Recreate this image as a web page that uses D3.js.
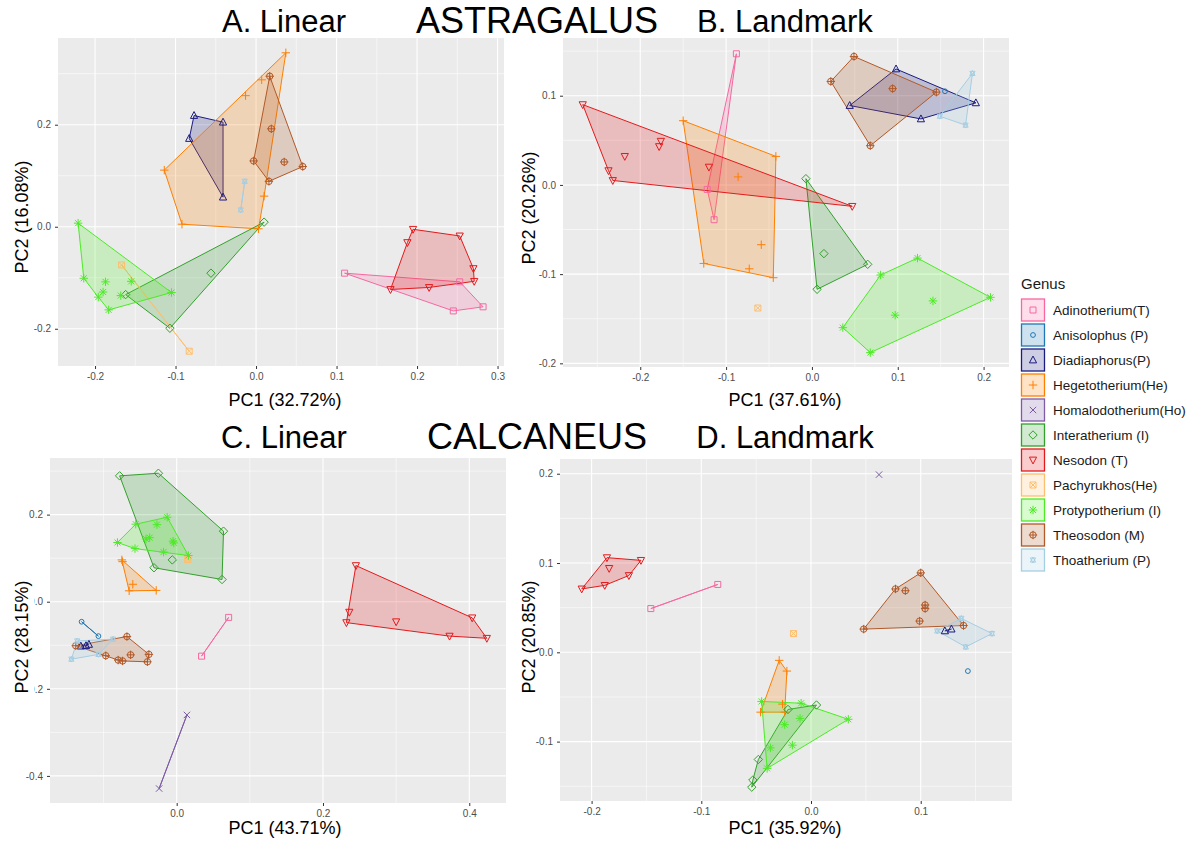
<!DOCTYPE html>
<html lang="en">
<head>
<meta charset="UTF-8">
<title>Astragalus / Calcaneus PCA</title>
<script src="https://cdn.jsdelivr.net/npm/d3@7"></script>
<style>
    body { margin: 0; background: #fff; }
    svg { display: block; font-family: "Liberation Sans", Arial, sans-serif; }
    .tick text { fill: #4d4d4d; font-size: 10px; }
    .tick line { stroke: #333; }
</style>
</head>
<body>
<svg id="chart" width="1202" height="845"></svg>
<script>
// genus legend
const genera = ["Adinotherium", "Anisolophus", "Diadiaphorus", "Hegetotherium", "Homalodotherium",
    "Interatherium", "Nesodon", "Pachyrukhos", "Protypotherium", "Theosodon", "Thoatherium"];
const genusLabels = ["Adinotherium(T)", "Anisolophus (P)", "Diadiaphorus(P)", "Hegetotherium(He)",
    "Homalodotherium(Ho)", "Interatherium (I)", "Nesodon (T)", "Pachyrukhos(He)",
    "Protypotherium (I)", "Theosodon (M)", "Thoatherium (P)"];
const genusColors = ["#F768A1", "#1F78B4", "#1B1B80", "#FF7F00", "#7D5BA6",
    "#33A02C", "#E31A1C", "#FDBF6F", "#4CEB26", "#B15928", "#A6CEE3"];
const genusShapes = ["square", "circle", "triangle", "plus", "cross",
    "diamond", "triangleDown", "squareCross", "asterisk", "circlePlus", "star"];

// [genus, PC1, PC2]
const astragalusLinear = [
    ["Adinotherium", 0.110, -0.091], ["Adinotherium", 0.253, -0.108], ["Adinotherium", 0.282, -0.157], ["Adinotherium", 0.245, -0.165],
    ["Diadiaphorus", -0.077, 0.218], ["Diadiaphorus", -0.083, 0.173], ["Diadiaphorus", -0.041, 0.205], ["Diadiaphorus", -0.041, 0.058],
    ["Hegetotherium", 0.037, 0.341], ["Hegetotherium", 0.007, 0.288], ["Hegetotherium", -0.013, 0.257], ["Hegetotherium", -0.114, 0.111],
    ["Hegetotherium", -0.092, 0.005], ["Hegetotherium", 0.003, -0.004], ["Hegetotherium", 0.010, 0.060],
    ["Interatherium", 0.010, 0.009], ["Interatherium", -0.056, -0.091], ["Interatherium", -0.162, -0.133], ["Interatherium", -0.107, -0.199],
    ["Nesodon", 0.195, -0.005], ["Nesodon", 0.188, -0.031], ["Nesodon", 0.253, -0.018], ["Nesodon", 0.270, -0.082],
    ["Nesodon", 0.271, -0.107], ["Nesodon", 0.215, -0.119], ["Nesodon", 0.167, -0.123],
    ["Pachyrukhos", -0.167, -0.075], ["Pachyrukhos", -0.083, -0.244],
    ["Protypotherium", -0.221, 0.007], ["Protypotherium", -0.214, -0.101], ["Protypotherium", -0.187, -0.108],
    ["Protypotherium", -0.155, -0.107], ["Protypotherium", -0.190, -0.128], ["Protypotherium", -0.196, -0.138],
    ["Protypotherium", -0.183, -0.163], ["Protypotherium", -0.168, -0.135], ["Protypotherium", -0.105, -0.129],
    ["Theosodon", 0.017, 0.295], ["Theosodon", 0.019, 0.192], ["Theosodon", -0.003, 0.129], ["Theosodon", 0.035, 0.127],
    ["Theosodon", 0.058, 0.118], ["Theosodon", 0.016, 0.089],
    ["Thoatherium", -0.014, 0.089], ["Thoatherium", -0.019, 0.033]
];

const astragalusLandmark = [
    ["Adinotherium", -0.088, 0.147], ["Adinotherium", -0.122, -0.005], ["Adinotherium", -0.114, -0.039],
    ["Anisolophus", 0.155, 0.105],
    ["Diadiaphorus", 0.098, 0.130], ["Diadiaphorus", 0.044, 0.089], ["Diadiaphorus", 0.127, 0.074], ["Diadiaphorus", 0.191, 0.092],
    ["Hegetotherium", -0.150, 0.072], ["Hegetotherium", -0.042, 0.032], ["Hegetotherium", -0.086, 0.009], ["Hegetotherium", -0.059, -0.067],
    ["Hegetotherium", -0.126, -0.088], ["Hegetotherium", -0.073, -0.094], ["Hegetotherium", -0.045, -0.104],
    ["Interatherium", -0.007, 0.007], ["Interatherium", 0.014, -0.077], ["Interatherium", 0.006, -0.117], ["Interatherium", 0.065, -0.089],
    ["Nesodon", -0.267, 0.090], ["Nesodon", -0.237, 0.016], ["Nesodon", -0.232, 0.005], ["Nesodon", -0.218, 0.032],
    ["Nesodon", -0.176, 0.049], ["Nesodon", -0.178, 0.043], ["Nesodon", -0.120, 0.020], ["Nesodon", 0.047, -0.024],
    ["Pachyrukhos", -0.063, -0.138],
    ["Protypotherium", 0.123, -0.082], ["Protypotherium", 0.080, -0.101], ["Protypotherium", 0.208, -0.126], ["Protypotherium", 0.141, -0.130],
    ["Protypotherium", 0.097, -0.146], ["Protypotherium", 0.036, -0.160], ["Protypotherium", 0.068, -0.188],
    ["Theosodon", 0.049, 0.144], ["Theosodon", 0.022, 0.116], ["Theosodon", 0.094, 0.108], ["Theosodon", 0.145, 0.104], ["Theosodon", 0.068, 0.044],
    ["Thoatherium", 0.187, 0.125], ["Thoatherium", 0.179, 0.067], ["Thoatherium", 0.149, 0.077]
];

const calcaneusLinear = [
    ["Adinotherium", 0.071, -0.036], ["Adinotherium", 0.034, -0.125],
    ["Anisolophus", -0.130, -0.046], ["Anisolophus", -0.107, -0.079],
    ["Diadiaphorus", -0.131, -0.102], ["Diadiaphorus", -0.124, -0.101], ["Diadiaphorus", -0.120, -0.098],
    ["Hegetotherium", -0.075, 0.096], ["Hegetotherium", -0.074, 0.092], ["Hegetotherium", -0.060, 0.040],
    ["Hegetotherium", -0.065, 0.025], ["Hegetotherium", -0.028, 0.026],
    ["Homalodotherium", 0.014, -0.260], ["Homalodotherium", -0.024, -0.429],
    ["Interatherium", -0.078, 0.289], ["Interatherium", -0.025, 0.295], ["Interatherium", 0.064, 0.162],
    ["Interatherium", 0.062, 0.051], ["Interatherium", -0.031, 0.078], ["Interatherium", -0.006, 0.096],
    ["Nesodon", 0.245, 0.083], ["Nesodon", 0.236, -0.024], ["Nesodon", 0.232, -0.048], ["Nesodon", 0.300, -0.046],
    ["Nesodon", 0.404, -0.037], ["Nesodon", 0.373, -0.079], ["Nesodon", 0.424, -0.084],
    ["Pachyrukhos", 0.015, 0.097],
    ["Protypotherium", -0.013, 0.194], ["Protypotherium", -0.056, 0.178], ["Protypotherium", -0.027, 0.177],
    ["Protypotherium", -0.081, 0.136], ["Protypotherium", -0.057, 0.122], ["Protypotherium", -0.042, 0.144],
    ["Protypotherium", -0.037, 0.147], ["Protypotherium", -0.005, 0.139], ["Protypotherium", -0.004, 0.135],
    ["Protypotherium", -0.018, 0.114], ["Protypotherium", 0.016, 0.106],
    ["Theosodon", -0.138, -0.101], ["Theosodon", -0.068, -0.080], ["Theosodon", -0.097, -0.124], ["Theosodon", -0.080, -0.134],
    ["Theosodon", -0.074, -0.136], ["Theosodon", -0.063, -0.122], ["Theosodon", -0.038, -0.121], ["Theosodon", -0.040, -0.138],
    ["Thoatherium", -0.136, -0.090], ["Thoatherium", -0.087, -0.086], ["Thoatherium", -0.144, -0.132], ["Thoatherium", -0.107, -0.121]
];

const calcaneusLandmark = [
    ["Adinotherium", -0.146, 0.049], ["Adinotherium", -0.085, 0.076],
    ["Anisolophus", 0.143, -0.021],
    ["Diadiaphorus", 0.122, 0.024], ["Diadiaphorus", 0.128, 0.026],
    ["Hegetotherium", -0.029, -0.009], ["Hegetotherium", -0.022, -0.021], ["Hegetotherium", -0.026, -0.058],
    ["Hegetotherium", -0.046, -0.067], ["Hegetotherium", -0.024, -0.067],
    ["Homalodotherium", 0.062, 0.199],
    ["Interatherium", 0.005, -0.059], ["Interatherium", -0.021, -0.064], ["Interatherium", -0.048, -0.120],
    ["Interatherium", -0.054, -0.151], ["Interatherium", -0.053, -0.143],
    ["Nesodon", -0.209, 0.071], ["Nesodon", -0.186, 0.106], ["Nesodon", -0.184, 0.094], ["Nesodon", -0.188, 0.075],
    ["Nesodon", -0.166, 0.086], ["Nesodon", -0.155, 0.103],
    ["Pachyrukhos", -0.016, 0.021],
    ["Protypotherium", -0.045, -0.055], ["Protypotherium", -0.009, -0.057], ["Protypotherium", 0.034, -0.075],
    ["Protypotherium", -0.010, -0.074], ["Protypotherium", -0.024, -0.081], ["Protypotherium", -0.017, -0.104],
    ["Protypotherium", -0.037, -0.107], ["Protypotherium", -0.040, -0.130],
    ["Theosodon", 0.100, 0.089], ["Theosodon", 0.077, 0.071], ["Theosodon", 0.086, 0.069], ["Theosodon", 0.104, 0.053],
    ["Theosodon", 0.104, 0.049], ["Theosodon", 0.099, 0.035], ["Theosodon", 0.048, 0.026], ["Theosodon", 0.139, 0.030],
    ["Thoatherium", 0.115, 0.024], ["Thoatherium", 0.137, 0.038], ["Thoatherium", 0.165, 0.021], ["Thoatherium", 0.141, 0.006]
];

// axis ticks
const xTicksA = [-0.2, -0.1, 0.0, 0.1, 0.2, 0.3];
const yTicksA = [-0.2, 0.0, 0.2];
const xTicksB = [-0.2, -0.1, 0.0, 0.1, 0.2];
const yTicksB = [-0.2, -0.1, 0.0, 0.1];
const xTicksC = [0.0, 0.2, 0.4];
const yTicksC = [-0.4, -0.2, 0.0, 0.2];
const xTicksD = [-0.2, -0.1, 0.0, 0.1];
const yTicksD = [-0.1, 0.0, 0.1, 0.2];

const panels = [
    { data: astragalusLinear, box: [58, 38, 504, 366], xDom: [-0.246, 0.308], yDom: [-0.273, 0.370],
      xTicks: xTicksA, yTicks: yTicksA, title: "A. Linear", xTitle: "PC1 (32.72%)", yTitle: "PC2 (16.08%)",
      titlePos: [284, 32], xTitlePos: [285, 406], yTitlePos: [28, 217] },
    { data: astragalusLandmark, box: [563, 38, 1009, 367], xDom: [-0.290, 0.2296], yDom: [-0.2041, 0.1647],
      xTicks: xTicksB, yTicks: yTicksB, title: "B. Landmark", xTitle: "PC1 (37.61%)", yTitle: "PC2 (20.26%)",
      titlePos: [785, 32], xTitlePos: [785, 406], yTitlePos: [535, 208] },
    { data: calcaneusLinear, box: [50, 458, 506, 803], xDom: [-0.1732, 0.4502], yDom: [-0.4622, 0.330],
      xTicks: xTicksC, yTicks: yTicksC, title: "C. Linear", xTitle: "PC1 (43.71%)", yTitle: "PC2 (28.15%)",
      titlePos: [284, 448], xTitlePos: [285, 834], yTitlePos: [28, 637], titleBg: true },
    { data: calcaneusLandmark, box: [560, 459, 1012, 801], xDom: [-0.2288, 0.1832], yDom: [-0.1665, 0.2165],
      xTicks: xTicksD, yTicks: yTicksD, title: "D. Landmark", xTitle: "PC1 (35.92%)", yTitle: "PC2 (20.85%)",
      titlePos: [785, 448], xTitlePos: [785, 834], yTitlePos: [535, 637] }
];

const svg = d3.select("#chart");
const fmt = v => (Math.abs(v) < 1e-9 ? 0 : v).toFixed(1);

function symbolPath(shape) {
    const p = d3.path();
    const sq = s => { p.moveTo(-s, -s); p.lineTo(s, -s); p.lineTo(s, s); p.lineTo(-s, s); p.closePath(); };
    const plus = s => { p.moveTo(-s, 0); p.lineTo(s, 0); p.moveTo(0, -s); p.lineTo(0, s); };
    const cross = s => { p.moveTo(-s, -s); p.lineTo(s, s); p.moveTo(-s, s); p.lineTo(s, -s); };
    const circ = r => { p.moveTo(r, 0); p.arc(0, 0, r, 0, 2 * Math.PI); };
    const tri = (s, dir) => { p.moveTo(0, -dir * s * 1.1); p.lineTo(s, dir * s * 0.8); p.lineTo(-s, dir * s * 0.8); p.closePath(); };
    switch (shape) {
        case "square": sq(3); break;
        case "circle": circ(2.4); break;
        case "triangle": tri(3.6, 1); break;
        case "plus": plus(4.2); break;
        case "cross": cross(3.2); break;
        case "diamond": p.moveTo(0, -4.2); p.lineTo(4.2, 0); p.lineTo(0, 4.2); p.lineTo(-4.2, 0); p.closePath(); break;
        case "triangleDown": tri(3.6, -1); break;
        case "squareCross": sq(3); cross(3); break;
        case "asterisk": plus(4.2); cross(3); break;
        case "circlePlus": circ(3.2); plus(4.2); break;
        case "star": tri(2.6, 1); tri(2.6, -1); break;
    }
    return p.toString();
}

function minorTicks(ticks, dom) {
    const step = ticks[1] - ticks[0];
    const out = [];
    for (let v = ticks[0] - step * 1.5; v <= ticks[ticks.length - 1] + step * 1.5; v += step) {
        if (v >= dom[0] && v <= dom[1]) out.push(v);
    }
    return out;
}

panels.forEach((p, i) => {
    const [x0, y0, x1, y1] = p.box;
    const x = d3.scaleLinear().domain(p.xDom).range([x0, x1]);
    const y = d3.scaleLinear().domain(p.yDom).range([y1, y0]);
    const g = svg.append("g");

    g.append("rect").attr("x", x0).attr("y", y0).attr("width", x1 - x0).attr("height", y1 - y0).attr("fill", "#EBEBEB");

    // grid
    const grid = g.append("g").attr("stroke", "#fff");
    grid.selectAll(".mx").data(minorTicks(p.xTicks, p.xDom)).join("line")
        .attr("x1", d => x(d)).attr("x2", d => x(d)).attr("y1", y0).attr("y2", y1).attr("stroke-width", 0.55);
    grid.selectAll(".my").data(minorTicks(p.yTicks, p.yDom)).join("line")
        .attr("y1", d => y(d)).attr("y2", d => y(d)).attr("x1", x0).attr("x2", x1).attr("stroke-width", 0.55);
    grid.selectAll(".gx").data(p.xTicks).join("line")
        .attr("x1", d => x(d)).attr("x2", d => x(d)).attr("y1", y0).attr("y2", y1).attr("stroke-width", 1.1);
    grid.selectAll(".gy").data(p.yTicks).join("line")
        .attr("y1", d => y(d)).attr("y2", d => y(d)).attr("x1", x0).attr("x2", x1).attr("stroke-width", 1.1);

    // axes
    g.append("g").attr("transform", `translate(0,${y1})`)
        .call(d3.axisBottom(x).tickValues(p.xTicks).tickFormat(fmt).tickSize(3).tickPadding(4))
        .call(a => a.select(".domain").remove())
        .call(a => a.selectAll("text").attr("font-family", null).attr("font-size", null));
    g.append("g").attr("transform", `translate(${x0},0)`)
        .call(d3.axisLeft(y).tickValues(p.yTicks).tickFormat(fmt).tickSize(3).tickPadding(4))
        .call(a => a.select(".domain").remove())
        .call(a => a.selectAll("text").attr("font-family", null).attr("font-size", null));

    // data
    const clipId = "clip" + i;
    g.append("clipPath").attr("id", clipId).append("rect")
        .attr("x", x0).attr("y", y0).attr("width", x1 - x0).attr("height", y1 - y0);
    const plot = g.append("g").attr("clip-path", `url(#${clipId})`);
    const groups = d3.group(p.data, d => d[0]);

    genera.forEach((gen, k) => {
        const pts = groups.get(gen);
        if (!pts || pts.length < 2) return;
        const xy = pts.map(d => [x(d[1]), y(d[2])]);
        const hull = pts.length >= 3 ? d3.polygonHull(xy) : xy;
        plot.append("path")
            .attr("d", "M" + hull.join("L") + "Z")
            .attr("fill", genusColors[k]).attr("fill-opacity", 0.22)
            .attr("stroke", genusColors[k]).attr("stroke-width", 1)
            .attr("stroke-linejoin", "round");
    });
    genera.forEach((gen, k) => {
        const pts = groups.get(gen);
        if (!pts) return;
        plot.selectAll(null).data(pts).join("path")
            .attr("transform", d => `translate(${x(d[1])},${y(d[2])})`)
            .attr("d", symbolPath(genusShapes[k]))
            .attr("fill", "none").attr("stroke", genusColors[k]).attr("stroke-width", 1);
    });

    // titles
    svg.append("text").attr("x", p.titlePos[0]).attr("y", p.titlePos[1])
        .attr("text-anchor", "middle").attr("font-size", 31).attr("fill", "#000").text(p.title);
    svg.append("text").attr("x", p.xTitlePos[0]).attr("y", p.xTitlePos[1])
        .attr("text-anchor", "middle").attr("font-size", 18).attr("fill", "#000").text(p.xTitle);
    const yt = svg.append("g").attr("transform", `translate(${p.yTitlePos[0]},${p.yTitlePos[1]}) rotate(-90)`);
    const ytText = yt.append("text").attr("text-anchor", "middle").attr("font-size", 18).attr("fill", "#000").text(p.yTitle);
    if (p.titleBg) {
        const bb = ytText.node().getBBox();
        yt.insert("rect", "text").attr("x", bb.x - 2).attr("y", bb.y + 1).attr("width", bb.width + 4)
            .attr("height", bb.height + 1).attr("fill", "#fff");
    }
});

// bone headings
svg.append("text").attr("x", 537).attr("y", 33).attr("text-anchor", "middle")
    .attr("font-size", 36).attr("fill", "#000").text("ASTRAGALUS");
svg.append("text").attr("x", 537).attr("y", 449).attr("text-anchor", "middle")
    .attr("font-size", 36).attr("fill", "#000").text("CALCANEUS");

// legend
const legend = svg.append("g").attr("transform", "translate(1021,0)");
legend.append("text").attr("x", 0).attr("y", 289).attr("font-size", 15).attr("fill", "#1a1a1a").text("Genus");
genera.forEach((gen, k) => {
    const ky = 299 + k * 25;
    legend.append("rect").attr("x", 0.5).attr("y", ky).attr("width", 23).attr("height", 22)
        .attr("fill", "#fff").attr("stroke", "none");
    legend.append("rect").attr("x", 0.5).attr("y", ky).attr("width", 23).attr("height", 22)
        .attr("fill", genusColors[k]).attr("fill-opacity", 0.22)
        .attr("stroke", genusColors[k]).attr("stroke-width", 1.3);
    legend.append("path").attr("transform", `translate(12,${ky + 11})`)
        .attr("d", symbolPath(genusShapes[k])).attr("fill", "none")
        .attr("stroke", genusColors[k]).attr("stroke-width", 1);
    legend.append("text").attr("x", 32).attr("y", ky + 15.5).attr("font-size", 13.5)
        .attr("fill", "#1a1a1a").text(genusLabels[k]);
});
</script>
</body>
</html>
